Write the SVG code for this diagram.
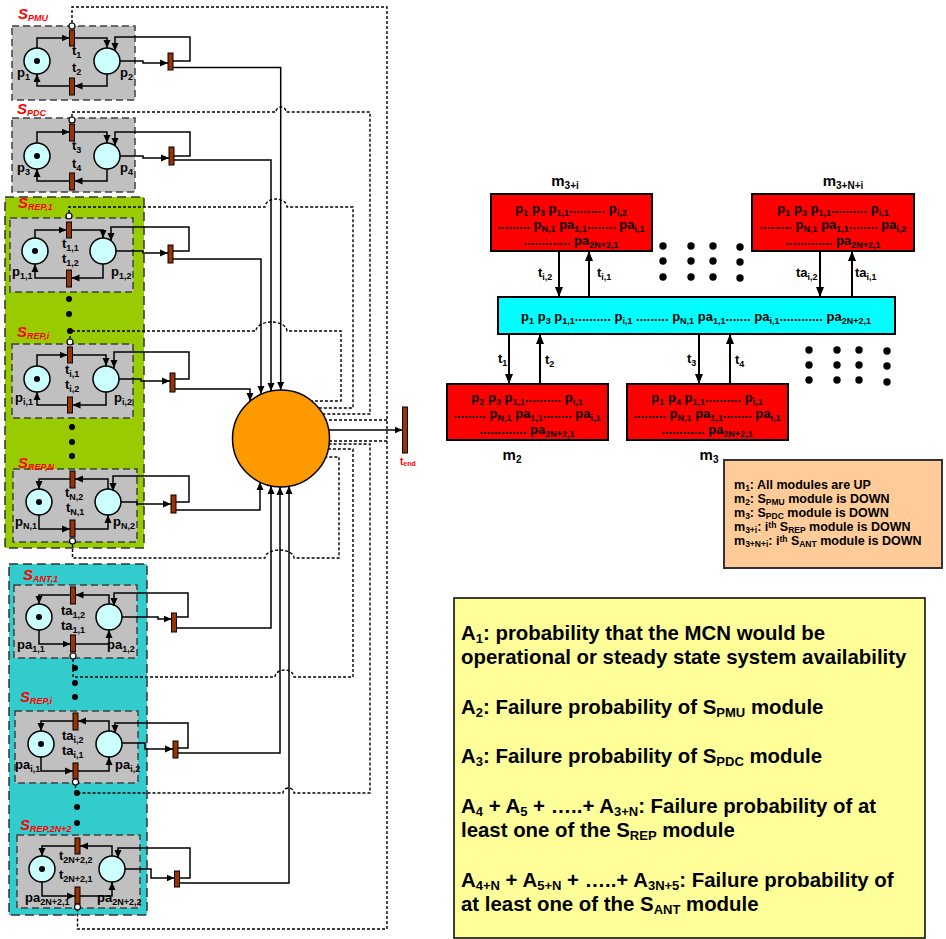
<svg xmlns="http://www.w3.org/2000/svg" width="946" height="939" viewBox="0 0 946 939">
<defs>
<style>
text{font-family:'Liberation Sans',Arial,sans-serif;font-weight:bold;fill:#000}
.lb{font-size:13px}
.sb{font-size:9px}
.sl{font-size:15px;font-style:italic;fill:#FF0000}
.gb{fill:#C0C0C0;stroke:#404040;stroke-width:1.5;stroke-dasharray:7,4}
.reg{stroke:#333;stroke-width:1.5;stroke-dasharray:9,5}
.pl{fill:#CCFFFF;stroke:#000;stroke-width:1.5}
.tr{fill:#993300;stroke:#000;stroke-width:1}
.sc{fill:#fff;stroke:#000;stroke-width:1.2}
.a{fill:none;stroke:#000;stroke-width:1.5;marker-end:url(#ah)}
.d{fill:none;stroke:#000;stroke-width:1.4;stroke-dasharray:3,2}
.rb{fill:#FF0000;stroke:#000;stroke-width:2}
.ra{fill:none;stroke:#000;stroke-width:2;marker-end:url(#ah2)}
.t13{font-size:13px}
.lg{font-size:12.5px}
.s9{font-size:8.5px}
.t15{font-size:15px}
.s10{font-size:10px}
.t20{font-size:20.4px}
.s13{font-size:13px}
</style>
<marker id="ah" viewBox="0 0 8 8" refX="8" refY="4" markerWidth="8" markerHeight="8" markerUnits="userSpaceOnUse" orient="auto"><path d="M0,0.5 L8,4 L0,7.5 z" fill="#000"/></marker>
<marker id="ah2" viewBox="0 0 10 10" refX="10" refY="5" markerWidth="10" markerHeight="10" markerUnits="userSpaceOnUse" orient="auto"><path d="M0,1 L10,5 L0,9 z" fill="#000"/></marker>
</defs>
<rect width="946" height="939" fill="#fff"/>

<!-- regions -->
<rect id="region_rep" class="reg" x="5" y="197" width="139" height="351" fill="#99CC00"/>
<rect id="region_ant" class="reg" x="9" y="564" width="138" height="351" fill="#33CCCC"/>

<!-- modules -->
<g id="S_PMU">
<rect class="gb" x="12" y="26" width="123" height="74"/>
<text class="sl" x="18" y="19">S<tspan class="sb" dy="2">PMU</tspan></text>
<circle class="pl" cx="37" cy="61" r="13"/><circle cx="37" cy="61" r="3"/>
<circle class="pl" cx="107" cy="61" r="13"/>
<rect class="tr" x="69.5" y="30" width="5" height="16"/>
<rect class="tr" x="69.5" y="78" width="5" height="17"/>
<circle class="sc" cx="72" cy="26" r="3"/>
<rect class="tr" x="168" y="53" width="5" height="17"/>
<text class="lb" x="72" y="55">t<tspan class="sb" dy="3">1</tspan></text>
<text class="lb" x="72" y="72">t<tspan class="sb" dy="3">2</tspan></text>
<text class="lb" x="17" y="77">p<tspan class="sb" dy="3">1</tspan></text>
<text class="lb" x="120" y="77">p<tspan class="sb" dy="3">2</tspan></text>
</g>

<g id="S_PDC">
<rect class="gb" x="12" y="118" width="123" height="74"/>
<text class="sl" x="17" y="114">S<tspan class="sb" dy="2">PDC</tspan></text>
<circle class="pl" cx="37" cy="156" r="13"/><circle cx="37" cy="156" r="3"/>
<circle class="pl" cx="107" cy="156" r="13"/>
<rect class="tr" x="69.5" y="124" width="5" height="17"/>
<rect class="tr" x="69.5" y="173" width="5" height="17"/>
<circle class="sc" cx="72" cy="120" r="3"/>
<rect class="tr" x="169" y="147" width="5" height="18"/>
<text class="lb" x="72" y="150">t<tspan class="sb" dy="3">3</tspan></text>
<text class="lb" x="72" y="168">t<tspan class="sb" dy="3">4</tspan></text>
<text class="lb" x="17" y="172">p<tspan class="sb" dy="3">3</tspan></text>
<text class="lb" x="120" y="172">p<tspan class="sb" dy="3">4</tspan></text>
</g>

<g id="S_REP_1">
<rect class="gb" x="10" y="218" width="123" height="74"/>
<text class="sl" x="18" y="208">S<tspan class="sb" dy="2">REP,1</tspan></text>
<circle class="pl" cx="35" cy="251" r="13"/><circle cx="35" cy="251" r="3"/>
<circle class="pl" cx="103" cy="251" r="13"/>
<rect class="tr" x="66.5" y="222" width="5" height="16"/>
<rect class="tr" x="66.5" y="270" width="5" height="17"/>
<circle class="sc" cx="69" cy="216" r="3"/>
<rect class="tr" x="168" y="245" width="5" height="18"/>
<text class="lb" x="62" y="248">t<tspan class="sb" dy="3">1,1</tspan></text>
<text class="lb" x="62" y="263">t<tspan class="sb" dy="3">1,2</tspan></text>
<text class="lb" x="12" y="276">p<tspan class="sb" dy="3">1,1</tspan></text>
<text class="lb" x="111" y="276">p<tspan class="sb" dy="3">1,2</tspan></text>
</g>

<g id="S_REP_i">
<rect class="gb" x="12" y="344" width="121" height="74"/>
<text class="sl" x="17" y="337">S<tspan class="sb" dy="2">REP,i</tspan></text>
<circle class="pl" cx="37" cy="379" r="13"/><circle cx="37" cy="379" r="3"/>
<circle class="pl" cx="106" cy="379" r="13"/>
<rect class="tr" x="67.5" y="347" width="5" height="16"/>
<rect class="tr" x="67.5" y="397" width="5" height="16"/>
<circle class="sc" cx="70" cy="342" r="3"/>
<rect class="tr" x="170" y="373" width="5" height="19"/>
<text class="lb" x="65" y="374">t<tspan class="sb" dy="3">i,1</tspan></text>
<text class="lb" x="65" y="389">t<tspan class="sb" dy="3">i,2</tspan></text>
<text class="lb" x="15" y="402">p<tspan class="sb" dy="3">i,1</tspan></text>
<text class="lb" x="114" y="402">p<tspan class="sb" dy="3">i,2</tspan></text>
</g>

<g id="S_REP_N">
<rect class="gb" x="13" y="469" width="124" height="73"/>
<text class="sl" x="18" y="468">S<tspan class="sb" dy="2">REP,N</tspan></text>
<circle class="pl" cx="39" cy="502" r="13"/><circle cx="39" cy="502" r="3"/>
<circle class="pl" cx="108" cy="502" r="13"/>
<rect class="tr" x="70" y="471" width="5" height="17"/>
<rect class="tr" x="70" y="520" width="5" height="17"/>
<circle class="sc" cx="72.5" cy="541" r="3"/>
<rect class="tr" x="171" y="495" width="5" height="18"/>
<text class="lb" x="65" y="497">t<tspan class="sb" dy="3">N,2</tspan></text>
<text class="lb" x="66" y="512">t<tspan class="sb" dy="3">N,1</tspan></text>
<text class="lb" x="15" y="526">p<tspan class="sb" dy="3">N,1</tspan></text>
<text class="lb" x="113" y="526">p<tspan class="sb" dy="3">N,2</tspan></text>
</g>

<g id="S_ANT_1">
<rect class="gb" x="14" y="585" width="123" height="73"/>
<text class="sl" x="23" y="580">S<tspan class="sb" dy="2">ANT,1</tspan></text>
<circle class="pl" cx="39" cy="617" r="13"/><circle cx="39" cy="617" r="3"/>
<circle class="pl" cx="109" cy="617" r="13"/>
<rect class="tr" x="70.5" y="587" width="5" height="17"/>
<rect class="tr" x="70.5" y="635" width="5" height="17"/>
<circle class="sc" cx="73" cy="656" r="3"/>
<rect class="tr" x="171.5" y="613" width="5" height="19"/>
<text class="lb" x="61" y="615">ta<tspan class="sb" dy="3">1,2</tspan></text>
<text class="lb" x="61" y="630">ta<tspan class="sb" dy="3">1,1</tspan></text>
<text class="lb" x="17" y="649">pa<tspan class="sb" dy="3">1,1</tspan></text>
<text class="lb" x="107" y="649">pa<tspan class="sb" dy="3">1,2</tspan></text>
</g>

<g id="S_REP_i_2">
<rect class="gb" x="15" y="711" width="123" height="72"/>
<text class="sl" x="20" y="702">S<tspan class="sb" dy="2">REP,i</tspan></text>
<circle class="pl" cx="41" cy="744" r="13"/><circle cx="41" cy="744" r="3"/>
<circle class="pl" cx="109" cy="744" r="13"/>
<rect class="tr" x="73" y="713" width="5" height="17"/>
<rect class="tr" x="73" y="763" width="5" height="16"/>
<circle class="sc" cx="75.5" cy="782" r="3"/>
<rect class="tr" x="173" y="741" width="5" height="17"/>
<text class="lb" x="62" y="740">ta<tspan class="sb" dy="3">i,2</tspan></text>
<text class="lb" x="62" y="755">ta<tspan class="sb" dy="3">i,1</tspan></text>
<text class="lb" x="15" y="769">pa<tspan class="sb" dy="3">i,1</tspan></text>
<text class="lb" x="115" y="769">pa<tspan class="sb" dy="3">i,2</tspan></text>
</g>

<g id="S_REP_2N2">
<rect class="gb" x="17" y="835" width="123" height="73"/>
<text class="sl" x="20" y="830">S<tspan class="sb" dy="2">REP,2N+2</tspan></text>
<circle class="pl" cx="42" cy="869" r="13"/><circle cx="42" cy="869" r="3"/>
<circle class="pl" cx="112" cy="869" r="13"/>
<rect class="tr" x="75" y="838" width="5" height="16"/>
<rect class="tr" x="75" y="887" width="5" height="17"/>
<circle class="sc" cx="77.5" cy="907" r="3"/>
<rect class="tr" x="174.5" y="871" width="5" height="16"/>
<text class="lb" x="59" y="860">t<tspan class="sb" dy="3">2N+2,2</tspan></text>
<text class="lb" x="59" y="879">t<tspan class="sb" dy="3">2N+2,1</tspan></text>
<text class="lb" x="25" y="902">pa<tspan class="sb" dy="3">2N+2,1</tspan></text>
<text class="lb" x="97" y="902">pa<tspan class="sb" dy="3">2N+2,2</tspan></text>
</g>

<g id="ellipsis_dots">
<circle cx="69" cy="299" r="3"/><circle cx="69" cy="314" r="3"/><circle cx="70" cy="331" r="3"/>
<circle cx="72" cy="427" r="3"/><circle cx="72" cy="442" r="3"/><circle cx="72" cy="456" r="3"/>
<circle cx="75" cy="668" r="3"/><circle cx="75" cy="683" r="3"/><circle cx="75" cy="697" r="3"/>
<circle cx="77" cy="793" r="3"/><circle cx="77" cy="807" r="3"/><circle cx="77" cy="823" r="3"/>
</g>

<g id="absorbing_place">
<circle cx="281" cy="438.5" r="48.5" fill="#FF9900" stroke="#000" stroke-width="1.5"/>
</g>
<g id="t_end">
<rect class="tr" x="402.5" y="407" width="5" height="46"/>
<text x="400" y="465" font-size="10" style="fill:#FF0000">t<tspan font-size="7" dy="1">end</tspan></text>
</g>

<!-- connectors -->
<g id="connectors">
<path class="a" d="M37,48 V38 H69.5"/>
<path class="a" d="M74.5,38 H107 V48"/>
<path class="a" d="M107,74 V86 H74.5"/>
<path class="a" d="M69.5,86 H37 V74"/>
<path class="a" d="M120,61 H143 V63 H168"/>
<path class="a" d="M173,61 H190 V37 H115 V51"/>
<path class="a" d="M173,67.5 H280.7 V390"/>
<path class="a" d="M37,143 V132 H69.5"/>
<path class="a" d="M74.5,132 H107 V143"/>
<path class="a" d="M107,169 V181 H74.5"/>
<path class="a" d="M69.5,181 H37 V169"/>
<path class="a" d="M120,156 H143 V158 H169"/>
<path class="a" d="M174,156 H190 V132 H115 V146"/>
<path class="a" d="M174,160 H271 V391"/>
<path class="a" d="M35,238 V230 H66.5"/>
<path class="a" d="M71.5,230 H103 V238"/>
<path class="a" d="M103,264 V278 H71.5"/>
<path class="a" d="M66.5,278 H35 V264"/>
<path class="a" d="M116,251 H143 V253 H168"/>
<path class="a" d="M173,251 H189 V227 H111 V241"/>
<path class="a" d="M173,259 H261 V394"/>
<path class="a" d="M37,366 V355 H67.5"/>
<path class="a" d="M72.5,355 H106 V366"/>
<path class="a" d="M106,392 V405 H72.5"/>
<path class="a" d="M67.5,405 H37 V392"/>
<path class="a" d="M119,379 H141 V381 H170"/>
<path class="a" d="M175,379 H189 V352 H114 V368"/>
<path class="a" d="M175,389 H250 V401"/>
<path class="a" d="M108,489 V479 H75"/>
<path class="a" d="M70,479 H39 V489"/>
<path class="a" d="M39,515 V529 H70"/>
<path class="a" d="M75,529 H108 V515"/>
<path class="a" d="M121,502 H137 V504 H171"/>
<path class="a" d="M176,502 H189 V476 H113 V491"/>
<path class="a" d="M176,510 H260 V482"/>
<path class="a" d="M109,604 V595 H75.5"/>
<path class="a" d="M70.5,595 H39 V604"/>
<path class="a" d="M39,630 V644 H70.5"/>
<path class="a" d="M75.5,644 H109 V630"/>
<path class="a" d="M122,617 H158 V619 H171.5"/>
<path class="a" d="M176.5,617 H188 V593 H114 V606"/>
<path class="a" d="M176.5,628 H271 V486"/>
<path class="a" d="M109,731 V721 H78"/>
<path class="a" d="M73,721 H41 V731"/>
<path class="a" d="M41,757 V771 H73"/>
<path class="a" d="M78,771 H109 V757"/>
<path class="a" d="M122,743 H145 V749 H173"/>
<path class="a" d="M178,748 H188 V723 H115 V733"/>
<path class="a" d="M178,753 H280 V487"/>
<path class="a" d="M112,856 V846 H80"/>
<path class="a" d="M75,846 H42 V856"/>
<path class="a" d="M42,882 V896 H75"/>
<path class="a" d="M80,896 H112 V882"/>
<path class="a" d="M125,869 H151 V878 H174.5"/>
<path class="a" d="M179.5,878 H190 V848 H118 V858"/>
<path class="a" d="M179.5,883 H289 V486"/>
<path class="a" d="M329,430 H402.5"/>
<path class="d" d="M72,23 V7 H387 V929 H77.5 V910"/>
<path class="d" d="M387,420 H326"/>
<path class="d" d="M387,441 H329.5"/>
<path class="d" d="M72,117 V112 H276 A5,5 0 0 1 286,112 H370 V414 H323"/>
<path class="d" d="M69,213 V207 H265 A11,8 0 0 1 287,207 H353 V408 H319"/>
<path class="d" d="M70,339 V331 H256 A15.5,9 0 0 1 287,331 H341 V401 H312"/>
<path class="d" d="M72.5,544 V558 H265 A14.5,8 0 0 1 294,558 H339 V457 H326"/>
<path class="d" d="M73,659 V677 H275 A9.5,7 0 0 1 294,677 H353 V449 H328.5"/>
<path class="d" d="M75.5,785 V793 H283 A5.5,5 0 0 1 294,793 H370 V444 H329.3"/>
<path class="ra" d="M559,251 V297"/>
<path class="ra" d="M589,297 V251"/>
<path class="ra" d="M820,251 V297"/>
<path class="ra" d="M852,297 V251"/>
<path class="ra" d="M509,334 V384"/>
<path class="ra" d="M540,384 V334"/>
<path class="ra" d="M699,334 V384"/>
<path class="ra" d="M730,384 V334"/>
</g>

<!-- right section nodes -->
<g id="m3i">
<text class="t15" x="565" y="186" text-anchor="middle">m<tspan class="s10" dy="3">3+i</tspan></text>
<rect class="rb" x="491" y="194" width="161" height="57"/>
<text class="t13" x="571" y="213" text-anchor="middle">p<tspan class="sb" dy="3">1</tspan><tspan dy="-3"> p</tspan><tspan class="sb" dy="3">3</tspan><tspan dy="-3"> p</tspan><tspan class="sb" dy="3">1,1</tspan><tspan dy="-3">.......... p</tspan><tspan class="sb" dy="3">i,2</tspan></text>
<text class="t13" x="571" y="229" text-anchor="middle">......... p<tspan class="sb" dy="3">N,1</tspan><tspan dy="-3"> pa</tspan><tspan class="sb" dy="3">1,1</tspan><tspan dy="-3">........ pa</tspan><tspan class="sb" dy="3">i,1</tspan></text>
<text class="t13" x="571" y="245" text-anchor="middle">............. pa<tspan class="sb" dy="3">2N+2,1</tspan></text>
</g>
<g id="m3Ni">
<text class="t15" x="843" y="186" text-anchor="middle">m<tspan class="s10" dy="3">3+N+i</tspan></text>
<rect class="rb" x="752" y="194" width="162" height="57"/>
<text class="t13" x="833" y="213" text-anchor="middle">p<tspan class="sb" dy="3">1</tspan><tspan dy="-3"> p</tspan><tspan class="sb" dy="3">3</tspan><tspan dy="-3"> p</tspan><tspan class="sb" dy="3">1,1</tspan><tspan dy="-3">.......... p</tspan><tspan class="sb" dy="3">i,1</tspan></text>
<text class="t13" x="833" y="229" text-anchor="middle">......... p<tspan class="sb" dy="3">N,1</tspan><tspan dy="-3"> pa</tspan><tspan class="sb" dy="3">1,1</tspan><tspan dy="-3">........ pa</tspan><tspan class="sb" dy="3">i,2</tspan></text>
<text class="t13" x="833" y="245" text-anchor="middle">............. pa<tspan class="sb" dy="3">2N+2,1</tspan></text>
</g>
<g id="m1">
<rect x="498" y="297" width="397" height="37" fill="#00FFFF" stroke="#000" stroke-width="2"/>
<text class="t13" x="696" y="321" text-anchor="middle">p<tspan class="sb" dy="3">1</tspan><tspan dy="-3"> p</tspan><tspan class="sb" dy="3">3</tspan><tspan dy="-3"> p</tspan><tspan class="sb" dy="3">1,1</tspan><tspan dy="-3">.......... p</tspan><tspan class="sb" dy="3">i,1</tspan><tspan dy="-3"> ......... p</tspan><tspan class="sb" dy="3">N,1</tspan><tspan dy="-3"> pa</tspan><tspan class="sb" dy="3">1,1</tspan><tspan dy="-3">....... pa</tspan><tspan class="sb" dy="3">i,1</tspan><tspan dy="-3">............ pa</tspan><tspan class="sb" dy="3">2N+2,1</tspan></text>
</g>
<g id="m2">
<rect class="rb" x="447" y="384" width="161" height="56"/>
<text class="t13" x="527" y="402" text-anchor="middle">p<tspan class="sb" dy="3">2</tspan><tspan dy="-3"> p</tspan><tspan class="sb" dy="3">3</tspan><tspan dy="-3"> p</tspan><tspan class="sb" dy="3">1,1</tspan><tspan dy="-3">.......... p</tspan><tspan class="sb" dy="3">i,1</tspan></text>
<text class="t13" x="527" y="418" text-anchor="middle">......... p<tspan class="sb" dy="3">N,1</tspan><tspan dy="-3"> pa</tspan><tspan class="sb" dy="3">1,1</tspan><tspan dy="-3">........ pa</tspan><tspan class="sb" dy="3">i,1</tspan></text>
<text class="t13" x="527" y="434" text-anchor="middle">............. pa<tspan class="sb" dy="3">2N+2,1</tspan></text>
<text class="t15" x="512" y="460" text-anchor="middle">m<tspan class="s10" dy="3">2</tspan></text>
</g>
<g id="m3">
<rect class="rb" x="627" y="384" width="161" height="56"/>
<text class="t13" x="707" y="402" text-anchor="middle">p<tspan class="sb" dy="3">1</tspan><tspan dy="-3"> p</tspan><tspan class="sb" dy="3">4</tspan><tspan dy="-3"> p</tspan><tspan class="sb" dy="3">1,1</tspan><tspan dy="-3">.......... p</tspan><tspan class="sb" dy="3">i,1</tspan></text>
<text class="t13" x="707" y="418" text-anchor="middle">......... p<tspan class="sb" dy="3">N,1</tspan><tspan dy="-3"> pa</tspan><tspan class="sb" dy="3">1,1</tspan><tspan dy="-3">........ pa</tspan><tspan class="sb" dy="3">i,1</tspan></text>
<text class="t13" x="707" y="434" text-anchor="middle">............ pa<tspan class="sb" dy="3">2N+2,1</tspan></text>
<text class="t15" x="709" y="460" text-anchor="middle">m<tspan class="s10" dy="3">3</tspan></text>
</g>
<g id="arrow_labels">
<text class="t13" x="538" y="277">t<tspan class="sb" dy="3">i,2</tspan></text>
<text class="t13" x="597" y="277">t<tspan class="sb" dy="3">i,1</tspan></text>
<text class="t13" x="796" y="277">ta<tspan class="sb" dy="3">i,2</tspan></text>
<text class="t13" x="855" y="277">ta<tspan class="sb" dy="3">i,1</tspan></text>
<text class="t13" x="498" y="363">t<tspan class="sb" dy="3">1</tspan></text>
<text class="t13" x="545" y="364">t<tspan class="sb" dy="3">2</tspan></text>
<text class="t13" x="687" y="363">t<tspan class="sb" dy="3">3</tspan></text>
<text class="t13" x="735" y="364">t<tspan class="sb" dy="3">4</tspan></text>
</g>
<g id="dot_grids">
<circle cx="663" cy="246" r="3.7"/><circle cx="691" cy="246" r="3.7"/><circle cx="713" cy="246" r="3.7"/><circle cx="740" cy="247" r="3.7"/>
<circle cx="663" cy="261" r="3.7"/><circle cx="691" cy="261" r="3.7"/><circle cx="713" cy="261" r="3.7"/><circle cx="740" cy="262" r="3.7"/>
<circle cx="663" cy="277" r="3.7"/><circle cx="691" cy="277" r="3.7"/><circle cx="713" cy="277" r="3.7"/><circle cx="740" cy="278" r="3.7"/>
<circle cx="809" cy="350" r="3.7"/><circle cx="837" cy="350" r="3.7"/><circle cx="859" cy="350" r="3.7"/><circle cx="887" cy="351" r="3.7"/>
<circle cx="809" cy="365" r="3.7"/><circle cx="837" cy="365" r="3.7"/><circle cx="859" cy="365" r="3.7"/><circle cx="887" cy="366" r="3.7"/>
<circle cx="809" cy="380" r="3.7"/><circle cx="837" cy="380" r="3.7"/><circle cx="859" cy="380" r="3.7"/><circle cx="887" cy="382" r="3.7"/>
</g>

<g id="legend">
<rect x="724" y="460" width="218" height="108" fill="#FFCC99" stroke="#333" stroke-width="2"/>
<text class="lg" x="734" y="489">m<tspan class="s9" dy="2">1</tspan><tspan dy="-2">: All modules are UP</tspan></text>
<text class="lg" x="734" y="503">m<tspan class="s9" dy="2">2</tspan><tspan dy="-2">: S</tspan><tspan class="s9" dy="2">PMU</tspan><tspan dy="-2"> module is DOWN</tspan></text>
<text class="lg" x="734" y="517">m<tspan class="s9" dy="2">3</tspan><tspan dy="-2">: S</tspan><tspan class="s9" dy="2">PDC</tspan><tspan dy="-2"> module is DOWN</tspan></text>
<text class="lg" x="734" y="531">m<tspan class="s9" dy="2">3+i</tspan><tspan dy="-2">: i</tspan><tspan class="s9" dy="-3">th</tspan><tspan dy="3"> S</tspan><tspan class="s9" dy="2">REP</tspan><tspan dy="-2"> module is DOWN</tspan></text>
<text class="lg" x="734" y="545">m<tspan class="s9" dy="2">3+N+i</tspan><tspan dy="-2">: i</tspan><tspan class="s9" dy="-3">th</tspan><tspan dy="3"> S</tspan><tspan class="s9" dy="2">ANT</tspan><tspan dy="-2"> module is DOWN</tspan></text>
</g>

<g id="availability_box">
<rect x="454" y="598" width="471" height="340" fill="#FFFF99" stroke="#000" stroke-width="1.5"/>
<text class="t20" x="461" y="640">A<tspan class="s13" dy="3">1</tspan><tspan dy="-3">: probability that the MCN would be</tspan></text>
<text class="t20" x="461" y="664">operational or steady state system availability</text>
<text class="t20" x="461" y="714">A<tspan class="s13" dy="3">2</tspan><tspan dy="-3">: Failure probability of S</tspan><tspan class="s13" dy="3">PMU</tspan><tspan dy="-3"> module</tspan></text>
<text class="t20" x="461" y="763">A<tspan class="s13" dy="3">3</tspan><tspan dy="-3">: Failure probability of S</tspan><tspan class="s13" dy="3">PDC</tspan><tspan dy="-3"> module</tspan></text>
<text class="t20" x="461" y="813">A<tspan class="s13" dy="3">4</tspan><tspan dy="-3"> + A</tspan><tspan class="s13" dy="3">5</tspan><tspan dy="-3"> + …..+ A</tspan><tspan class="s13" dy="3">3+N</tspan><tspan dy="-3">: Failure probability of at</tspan></text>
<text class="t20" x="461" y="837">least one of the S<tspan class="s13" dy="3">REP</tspan><tspan dy="-3"> module</tspan></text>
<text class="t20" x="461" y="887">A<tspan class="s13" dy="3">4+N</tspan><tspan dy="-3"> + A</tspan><tspan class="s13" dy="3">5+N</tspan><tspan dy="-3"> + …..+ A</tspan><tspan class="s13" dy="3">3N+5</tspan><tspan dy="-3">: Failure probability of</tspan></text>
<text class="t20" x="461" y="911">at least one of the S<tspan class="s13" dy="3">ANT</tspan><tspan dy="-3"> module</tspan></text>
</g>
</svg>
